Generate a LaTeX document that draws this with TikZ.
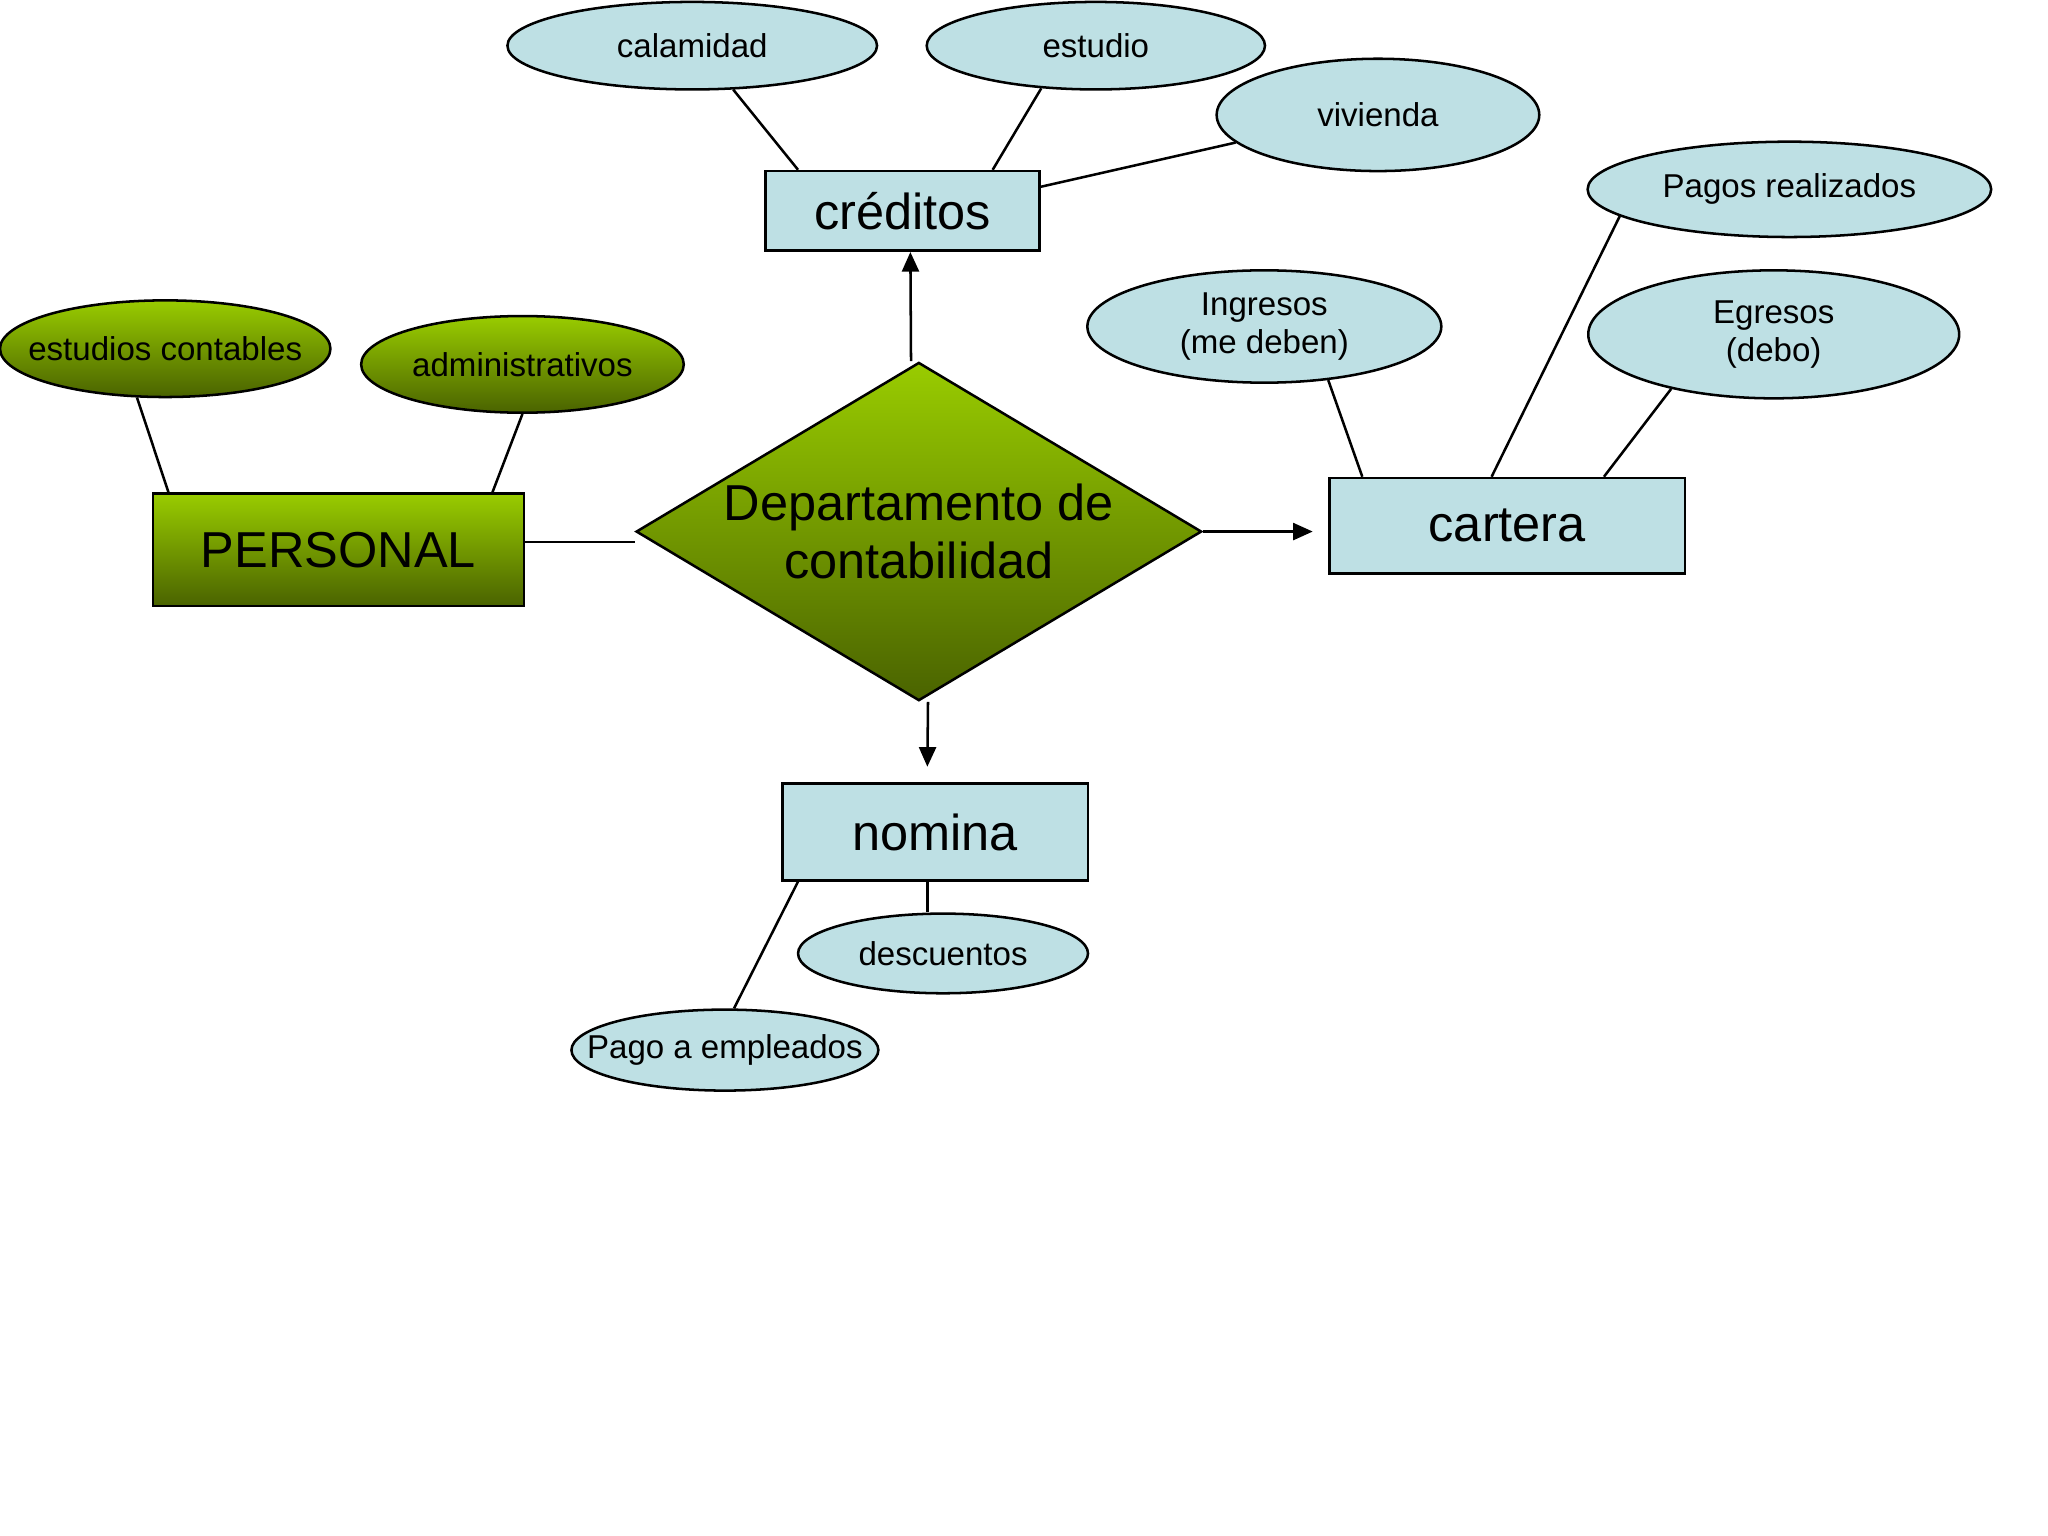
\documentclass[tikz,border=0pt]{standalone}
\usepackage{fontspec}
\setmainfont{Liberation Sans}
\usetikzlibrary{shapes.geometric,arrows.meta}
\definecolor{celeste}{RGB}{190,224,228}
\definecolor{verdeclaro}{RGB}{153,204,0}
\definecolor{verdeoscuro}{RGB}{74,99,0}

\begin{document}
\begin{tikzpicture}[line width=0.55pt,
    attr/.style={ellipse, draw, fill=celeste, inner sep=0pt, align=center, font=\fontsize{7.2}{8.3}\selectfont},
    attrv/.style={ellipse, draw, top color=verdeclaro, bottom color=verdeoscuro, inner sep=0pt, font=\fontsize{7.2}{8.3}\selectfont},
    ent/.style={rectangle, draw, fill=celeste, inner sep=0pt, font=\fontsize{11}{13}\selectfont},
    entv/.style={rectangle, draw, top color=verdeclaro, bottom color=verdeoscuro, inner sep=0pt, font=\fontsize{11}{13}\selectfont},
    arr/.style={-{Triangle[length=1.5mm,width=1.3mm]}}
]
    \useasboundingbox (0,0) rectangle (15.68,11.76);

    % atributos
    \node[attr, minimum width=2.83cm, minimum height=0.67cm] (cal) at (5.30,11.41) {calamidad};
    \node[attr, minimum width=2.59cm, minimum height=0.67cm] (estu) at (8.39,11.41) {estudio};
    \node[attr, minimum width=2.47cm, minimum height=0.86cm] (viv) at (10.55,10.88) {vivienda};
    \node[attr, minimum width=3.09cm, minimum height=0.73cm] (pagos) at (13.70,10.31) {Pagos realizados};
    \node[attr, minimum width=2.71cm, minimum height=0.86cm] (ingr) at (9.68,9.26) {Ingresos\\(me deben)};
    \node[attr, minimum width=2.84cm, minimum height=0.98cm] (egr) at (13.58,9.20) {Egresos\\(debo)};
    \node[attrv, minimum width=2.53cm, minimum height=0.74cm, inner xsep=-0.2cm] (estcont) at (1.265,9.09) {estudios contables};
    \node[attrv, minimum width=2.47cm, minimum height=0.74cm] (admin) at (4.00,8.97) {administrativos};
    \node[attr, minimum width=2.22cm, minimum height=0.61cm] (desc) at (7.22,4.46) {descuentos};
    \node[attr, minimum width=2.35cm, minimum height=0.62cm, inner xsep=-0.25cm] (pagoemp) at (5.55,3.72) {Pago a empleados};

    % entidades
    \node[ent, minimum width=2.10cm, minimum height=0.61cm] (cred) at (6.91,10.145) {créditos};
    \node[entv, minimum width=2.84cm, minimum height=0.86cm] (pers) at (2.59,7.55) {PERSONAL};
    \node[ent, minimum width=2.72cm, minimum height=0.73cm] (cart) at (11.54,7.735) {cartera};
    \node[ent, minimum width=2.34cm, minimum height=0.74cm] (nom) at (7.16,5.39) {nomina};

    \node[diamond, draw, top color=verdeclaro, bottom color=verdeoscuro, shape aspect=1.67, minimum width=4.33cm, minimum height=2.59cm, inner sep=-4pt, align=center, font=\fontsize{11}{12.5}\selectfont] (dep) at (7.035,7.69) {Departamento de\\contabilidad};

    % lineas
    \draw (cal.-47) -- ([xshift=-0.8cm]cred.north);
    \draw (estu.-142) -- ([xshift=0.69cm]cred.north);
    \draw (viv.-169) -- ([yshift=0.185cm]cred.east);

    \draw (estcont.-120) -- ([xshift=-1.30cm]pers.north);
    \draw (admin.south) -- ([xshift=1.18cm]pers.north);
    \draw ([yshift=0.06cm]pers.east) -- ([yshift=0.06cm]pers.east -| dep.west);

    \draw[arr] ([xshift=-0.06cm]dep.north) -- ([xshift=0.06cm]cred.south);
    \draw[arr] (dep.east) -- ([xshift=-0.12cm]dep.east -| cart.west);
    \draw[arr] ([xshift=0.07cm]dep.south) -- ([xshift=-0.06cm,yshift=0.12cm]nom.north);

    \draw (ingr.-40) -- ([xshift=-1.11cm]cart.north);
    \draw (pagos.-171) -- ([xshift=-0.12cm]cart.north);
    \draw (egr.-152) -- ([xshift=0.74cm]cart.north);

    \draw ([xshift=-0.06cm]nom.south) -- ([xshift=-0.12cm]desc.north);
    \draw ([xshift=-1.05cm]nom.south) -- ([xshift=0.07cm]pagoemp.north);

\end{tikzpicture}
\end{document}
